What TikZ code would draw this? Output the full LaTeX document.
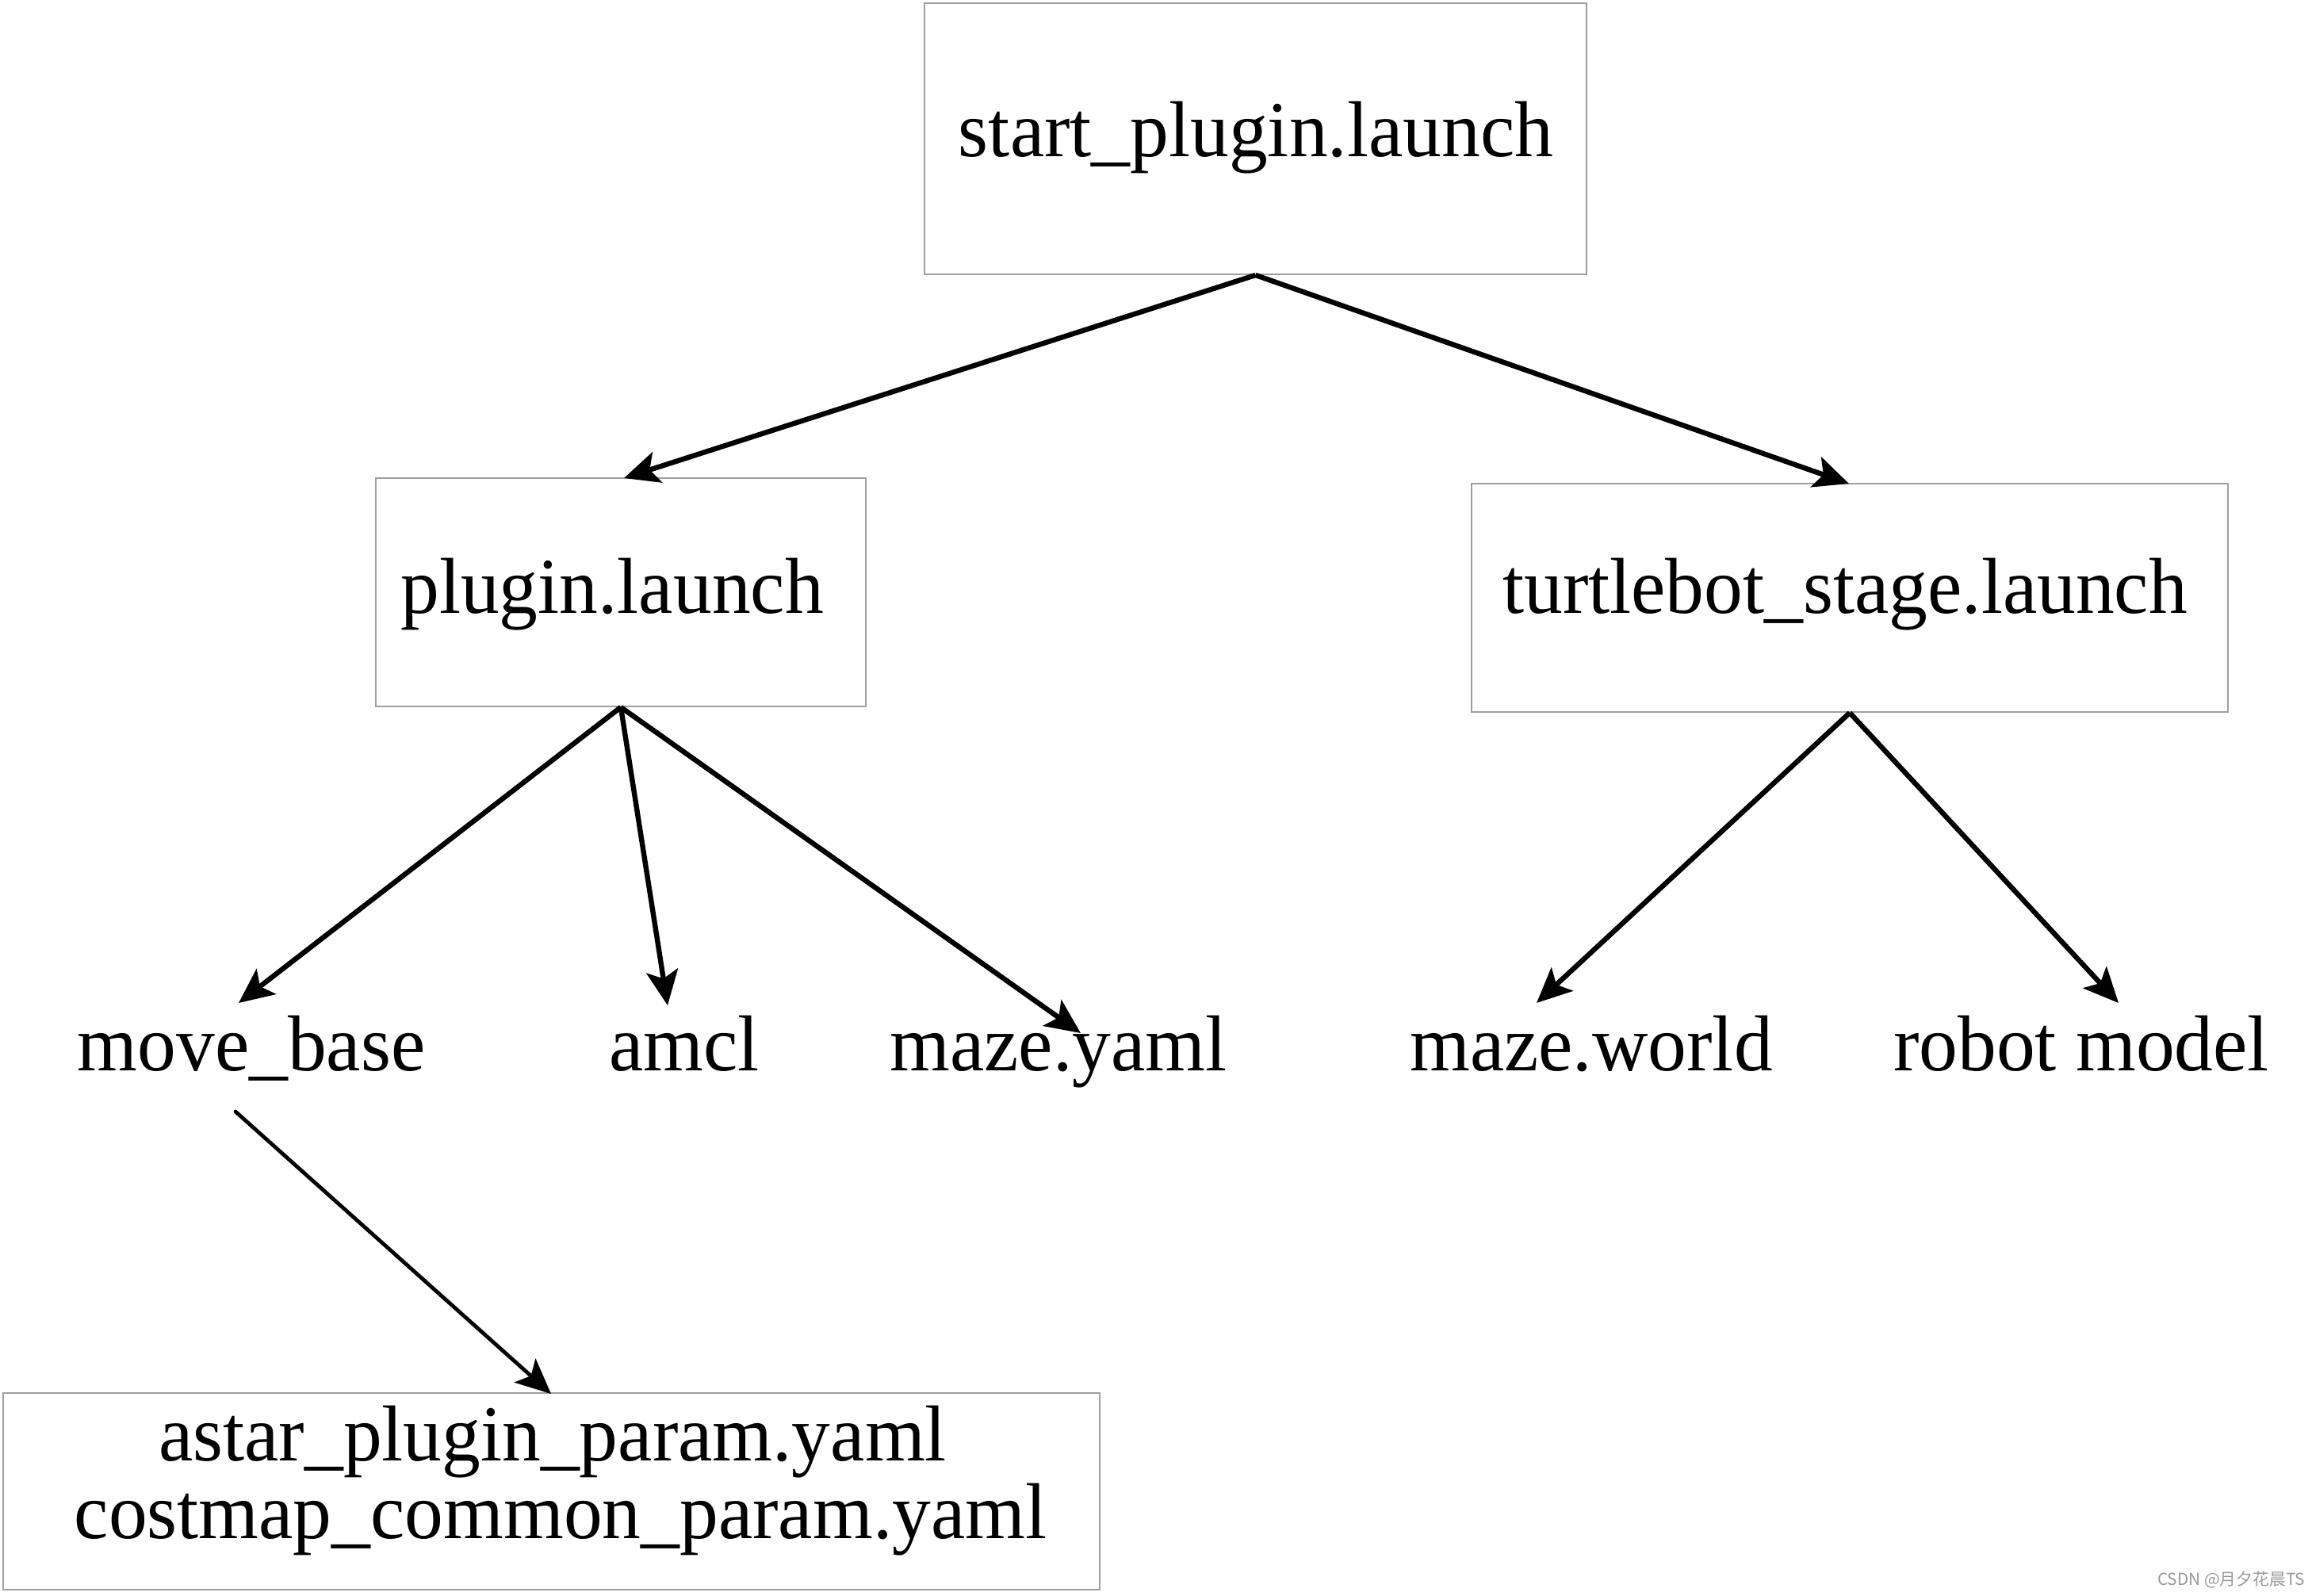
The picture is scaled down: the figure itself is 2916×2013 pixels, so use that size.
\documentclass[tikz,border=0pt]{standalone}
\usepackage{fontspec}
\setmainfont[FakeStretch=0.975]{Liberation Serif}
\newfontfamily\cjk{Noto Sans CJK SC}
\usetikzlibrary{arrows.meta}
\begin{document}
\begin{tikzpicture}[x=0.25pt,y=-0.25pt,
  fbox/.style={draw=gray!75,line width=0.5pt,inner sep=0pt,fill=white},
  lbl/.style={inner sep=0pt,anchor=base,font=\fontsize{25}{25}\selectfont},
  conn/.style={line width=1.6pt,-{Stealth[length=11pt,width=10pt,inset=2.5pt]}},
  thinconn/.style={line width=1.2pt,line cap=round,-{Stealth[length=11pt,width=10pt,inset=2.5pt]}}
]
\useasboundingbox[fill=white] (0,0) rectangle (2916,2013);
% boxes
\node[fbox,minimum width=835*0.25pt,minimum height=342*0.25pt] (b1) at (1583.5,175) {};
\node[lbl] (b1t) at (1584,197) {start\_plugin.launch};
\node[fbox,minimum width=618*0.25pt,minimum height=288*0.25pt] (b2) at (783,747) {};
\node[lbl] (b2t) at (772,773) {plugin.launch};
\node[fbox,minimum width=954*0.25pt,minimum height=288*0.25pt] (b3) at (2333,754) {};
\node[lbl] (b3t) at (2327,773) {turtlebot\_stage.launch};
\node[fbox,minimum width=1383*0.25pt,minimum height=248*0.25pt] (b4) at (695.5,1881) {};
\node[lbl] (b4a) at (697,1842) {astar\_plugin\_param.yaml};
\node[lbl] (b4b) at (707,1940) {costmap\_common\_param.yaml};
% labels
\node[lbl] (mb) at (317,1350) {move\_base};
\node[lbl] (am) at (863,1350) {amcl};
\node[lbl] (my) at (1335,1350) {maze.yaml};
\node[lbl] (mw) at (2007,1350) {maze.world};
\node[lbl] (rm) at (2625,1350) {robot model};
% arrow tips / ends
\coordinate (t1) at (787,603);
\coordinate (t2) at (2332,610);
\coordinate (t3) at (301,1265);
\coordinate (t4) at (842,1268);
\coordinate (t5) at (1363,1303);
\coordinate (t6) at (1938,1265);
\coordinate (t7) at (2672,1265);
\coordinate (s8) at (297,1402);
\coordinate (t8) at (695,1758);
\draw[conn] (b1.south) -- (t1);
\draw[conn] (b1.south) -- (t2);
\draw[conn] (b2.south) -- (t3);
\draw[conn] (b2.south) -- (t4);
\draw[conn] (b2.south) -- (t5);
\draw[conn] (b3.south) -- (t6);
\draw[conn] (b3.south) -- (t7);
\draw[thinconn] (s8) -- (t8);
% watermark
\node[inner sep=0pt,text=gray!80,font=\cjk\fontsize{5.2}{6}\selectfont] (wm) at (2814,1993) {CSDN @月夕花晨TS};
\end{tikzpicture}
\end{document}
